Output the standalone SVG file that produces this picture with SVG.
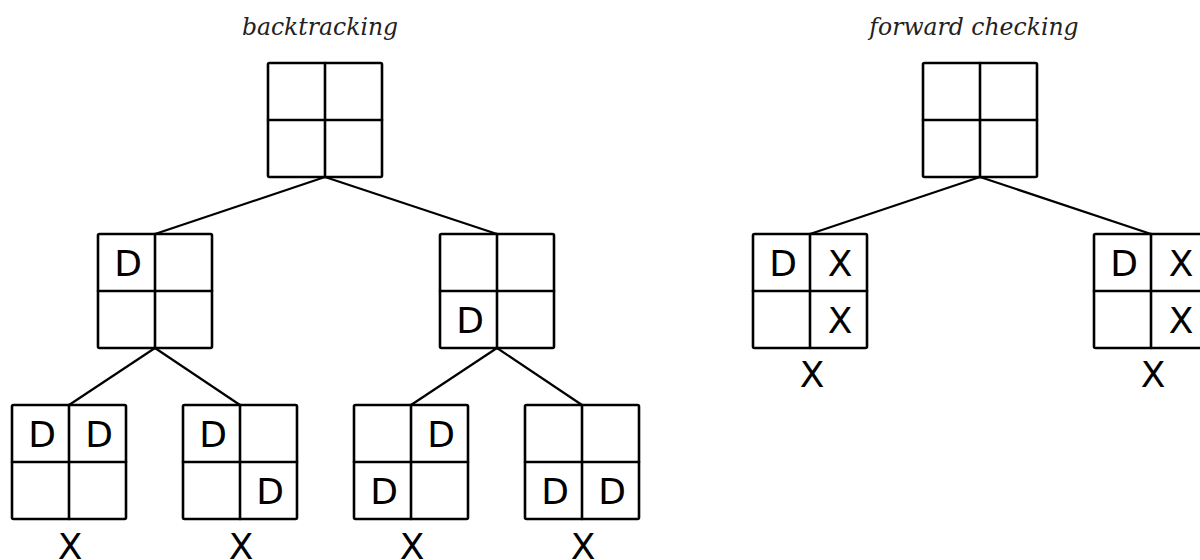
<svg xmlns="http://www.w3.org/2000/svg" xmlns:xlink="http://www.w3.org/1999/xlink" width="1200" height="560" viewBox="0 0 1200 560">
  <style>
    .title { font-family: "DejaVu Serif", "Liberation Serif", serif; font-style: italic; font-size: 23.5px; fill: #222; text-anchor: middle; }
    .mark { font-family: "DejaVu Sans", "Liberation Sans", sans-serif; font-size: 36px; fill: #000; text-anchor: middle; }
    .grid { fill: #fff; stroke: #000; stroke-width: 2.6; stroke-linejoin: round; stroke-linecap: round; }
    .edge { stroke: #000; stroke-width: 2.2; fill: none; }
  </style>
  <defs>
    <!-- 2x2 board, 114 px square -->
    <g id="board" class="grid">
      <rect x="0" y="0" width="114" height="114" rx="1.5"/>
      <line x1="57" y1="0" x2="57" y2="114"/>
      <line x1="0" y1="57" x2="114" y2="57"/>
    </g>
  </defs>
  <rect width="1200" height="560" fill="#fff"/>

  <text class="title" x="320" y="35">backtracking</text>
  <text class="title" x="974" y="35">forward checking</text>

  <g id="connectors">
    <line class="edge" x1="325" y1="177" x2="155" y2="234"/>
    <line class="edge" x1="325" y1="177" x2="497" y2="234"/>
    <line class="edge" x1="155" y1="348" x2="69" y2="405"/>
    <line class="edge" x1="155" y1="348" x2="240" y2="405"/>
    <line class="edge" x1="497" y1="348" x2="411" y2="405"/>
    <line class="edge" x1="497" y1="348" x2="582" y2="405"/>
    <line class="edge" x1="980" y1="177" x2="810" y2="234"/>
    <line class="edge" x1="980" y1="177" x2="1151" y2="234"/>
  </g>

  <!-- backtracking tree -->
  <g id="bt-root">
    <use xlink:href="#board" x="268" y="63"/>
  </g>
  <g id="bt-a">
    <use xlink:href="#board" x="98" y="234"/>
    <text class="mark" x="128" y="276">D</text>
  </g>
  <g id="bt-b">
    <use xlink:href="#board" x="440" y="234"/>
    <text class="mark" x="470" y="333">D</text>
  </g>
  <g id="bt-aa">
    <use xlink:href="#board" x="12" y="405"/>
    <text class="mark" x="42" y="447">D</text>
    <text class="mark" x="99" y="447">D</text>
    <text class="mark" x="70" y="559">X</text>
  </g>
  <g id="bt-ab">
    <use xlink:href="#board" x="183" y="405"/>
    <text class="mark" x="213" y="447">D</text>
    <text class="mark" x="270" y="504">D</text>
    <text class="mark" x="241" y="559">X</text>
  </g>
  <g id="bt-ba">
    <use xlink:href="#board" x="354" y="405"/>
    <text class="mark" x="441" y="447">D</text>
    <text class="mark" x="384" y="504">D</text>
    <text class="mark" x="412" y="559">X</text>
  </g>
  <g id="bt-bb">
    <use xlink:href="#board" x="525" y="405"/>
    <text class="mark" x="555" y="504">D</text>
    <text class="mark" x="612" y="504">D</text>
    <text class="mark" x="583" y="559">X</text>
  </g>

  <!-- forward checking tree -->
  <g id="fc-root">
    <use xlink:href="#board" x="923" y="63"/>
  </g>
  <g id="fc-a">
    <use xlink:href="#board" x="753" y="234"/>
    <text class="mark" x="783" y="276">D</text>
    <text class="mark" x="840" y="276">X</text>
    <text class="mark" x="840" y="333">X</text>
    <text class="mark" x="812" y="387">X</text>
  </g>
  <g id="fc-b">
    <use xlink:href="#board" x="1094" y="234"/>
    <text class="mark" x="1124" y="276">D</text>
    <text class="mark" x="1181" y="276">X</text>
    <text class="mark" x="1181" y="333">X</text>
    <text class="mark" x="1153" y="387">X</text>
  </g>
</svg>
